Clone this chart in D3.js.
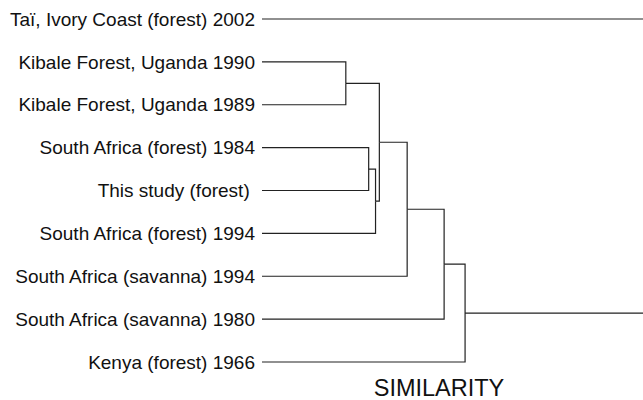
<!DOCTYPE html>
<html>
<head>
<meta charset="utf-8">
<script src="https://cdn.jsdelivr.net/npm/d3@7"></script>
<style>
  body { margin: 0; background: #fff; }
  svg { display: block; }
  .leaf-label { font-family: 'Liberation Sans', Arial, sans-serif; font-size: 19px; fill: #111; white-space: pre; }
  .axis-title { font-family: 'Liberation Sans', Arial, sans-serif; font-size: 23.5px; fill: #111; }
  .link { fill: none; stroke: #222; stroke-width: 1.2; }
</style>
</head>
<body>
<div id="chart"></div>
<script>
const width = 643
const height = 400

// leaves, top to bottom
const leaves = [
  'Taï, Ivory Coast (forest) 2002',
  'Kibale Forest, Uganda 1990',
  'Kibale Forest, Uganda 1989',
  'South Africa (forest) 1984',
  'This study (forest) ',
  'South Africa (forest) 1994',
  'South Africa (savanna) 1994',
  'South Africa (savanna) 1980',
  'Kenya (forest) 1966',
]

// merges: [id, left child, right child, height] - children are leaf indexes or merge ids
const merges = [
  ['m0', 1, 2, 22.0],
  ['m1', 3, 4, 28.0],
  ['m2', 'm1', 5, 29.8],
  ['m3', 'm0', 'm2', 30.8],
  ['m4', 'm3', 6, 38.1],
  ['m5', 'm4', 7, 47.8],
  ['m6', 'm5', 8, 53.3],
  ['root', 0, 'm6', 115],
]

const margin = { left: 262, right: 0 }

const nodes = {}
leaves.forEach(function (name, i) {
  nodes[i] = { name: name, height: 0 }
})
merges.forEach(function (m) {
  nodes[m[0]] = { name: m[0], height: m[3], children: [nodes[m[1]], nodes[m[2]]] }
})

const root = d3.hierarchy(nodes.root)

const x = d3.scaleLinear().domain([0, 100]).range([margin.left, width])
const y = d3.scalePoint().domain(leaves).range([19, 362])

// leaf y from scale, internal node y at midpoint of its children
root.eachAfter(function (d) {
  if (!d.children) {
    d.y = y(d.data.name)
  } else {
    d.y = d3.mean(d.children, function (c) { return c.y })
  }
  d.x = x(d.data.height)
})

const svg = d3.select('#chart')
  .append('svg')
  .attr('width', width)
  .attr('height', height)

svg.append('g')
  .selectAll('path')
  .data(root.descendants().filter(function (d) { return d.parent }))
  .join('path')
  .attr('class', 'link')
  .attr('d', function (d) {
    return 'M' + d.parent.x + ',' + d.parent.y + 'V' + d.y + 'H' + d.x
  })

svg.append('g')
  .selectAll('text')
  .data(root.leaves())
  .join('text')
  .attr('class', 'leaf-label')
  .attr('x', margin.left - 7)
  .attr('y', function (d) { return d.y })
  .attr('dy', '0.35em')
  .attr('text-anchor', 'end')
  .text(function (d) { return d.data.name })

svg.append('text')
  .attr('class', 'axis-title')
  .attr('x', 439)
  .attr('y', 396)
  .attr('text-anchor', 'middle')
  .text('SIMILARITY')
</script>
</body>
</html>
